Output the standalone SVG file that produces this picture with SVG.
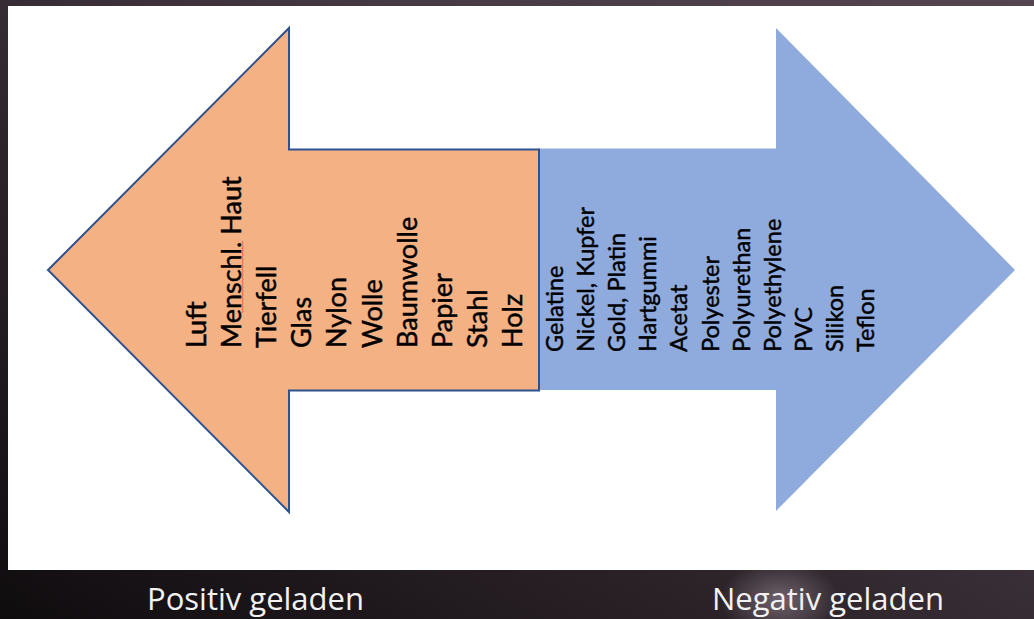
<svg xmlns="http://www.w3.org/2000/svg" width="1034" height="619" viewBox="0 0 1034 619">
  <defs>
    <linearGradient id="bg" x1="0" y1="1" x2="1" y2="0">
      <stop offset="0" stop-color="#0f0c0e"/>
      <stop offset="0.35" stop-color="#2b2228"/>
      <stop offset="0.7" stop-color="#463a43"/>
      <stop offset="1" stop-color="#54464f"/>
    </linearGradient>
    <radialGradient id="glow" cx="0.5" cy="0.5" r="0.5">
      <stop offset="0" stop-color="#8a7c88" stop-opacity="0.7"/>
      <stop offset="1" stop-color="#8a7c88" stop-opacity="0"/>
    </radialGradient>
    <style>
      .lab { font-family: Lato, "Liberation Sans", sans-serif; fill: #000; stroke: #000; stroke-width: 0.45px; }
      .pos { font-size: 27px; }
      .neg { font-size: 23.5px; }
      .cap { font-family: "Open Sans", "Liberation Sans", sans-serif; font-size: 31px; fill: #f2f2f2; }
    </style>
  </defs>

  <!-- background -->
  <rect x="0" y="0" width="1034" height="619" fill="url(#bg)"/>
  <ellipse cx="780" cy="600" rx="60" ry="40" fill="url(#glow)"/>
  <rect x="8" y="6" width="1026" height="564" fill="#ffffff"/>

  <!-- arrows -->
  <g id="arrow-negative">
    <polygon points="538,148.5 776,148.5 776,28 1015,270 776,511 776,390 538,390" fill="#8faadc"/>
  </g>
  <g id="arrow-positive">
    <polygon points="48,270 289,28 289,149.5 539,149.5 539,390.5 289,390.5 289,512" fill="#f4b183" stroke="#2f528f" stroke-width="2" stroke-linejoin="miter"/>
  </g>

  <g id="connectors"></g>

  <!-- positive list -->
  <g id="list-positive" class="lab pos">
    <text transform="translate(205.5,348) rotate(-90)">Luft</text>
    <text transform="translate(240.7,348) rotate(-90)">Menschl. Haut</text>
    <text transform="translate(275.9,348) rotate(-90)">Tierfell</text>
    <text transform="translate(311.1,348) rotate(-90)">Glas</text>
    <text transform="translate(346.3,348) rotate(-90)">Nylon</text>
    <text transform="translate(381.5,348) rotate(-90)">Wolle</text>
    <text transform="translate(416.7,348) rotate(-90)">Baumwolle</text>
    <text transform="translate(451.9,348) rotate(-90)">Papier</text>
    <text transform="translate(487.1,348) rotate(-90)">Stahl</text>
    <text transform="translate(522.3,348) rotate(-90)">Holz</text>
  </g>
  <path d="M242,313 l1.2,-2 l-1.2,-2 l1.2,-2 l-1.2,-2 l1.2,-2 l-1.2,-2 l1.2,-2 l-1.2,-2 l1.2,-2 l-1.2,-2 l1.2,-2 l-1.2,-2 l1.2,-2 l-1.2,-2 l1.2,-2 l-1.2,-2 l1.2,-2 l-1.2,-2 l1.2,-2 l-1.2,-2 l1.2,-2 l-1.2,-2 l1.2,-2 l-1.2,-2 l1.2,-2 l-1.2,-2 l1.2,-2 l-1.2,-2 l1.2,-2 l-1.2,-2 l1.2,-2 l-1.2,-2 l1.2,-2 l-1.2,-2 l1.2,-2 l-1.2,-2" fill="none" stroke="#e0403a" stroke-width="0.9" opacity="0.8"/>

  <!-- negative list -->
  <g id="list-negative" class="lab neg">
    <text transform="translate(563,352) rotate(-90)">Gelatine</text>
    <text transform="translate(594.1,352) rotate(-90)">Nickel, Kupfer</text>
    <text transform="translate(625.2,352) rotate(-90)">Gold, Platin</text>
    <text transform="translate(656.3,352) rotate(-90)">Hartgummi</text>
    <text transform="translate(687.4,352) rotate(-90)">Acetat</text>
    <text transform="translate(718.5,352) rotate(-90)">Polyester</text>
    <text transform="translate(749.6,352) rotate(-90)">Polyurethan</text>
    <text transform="translate(780.7,352) rotate(-90)">Polyethylene</text>
    <text transform="translate(811.8,352) rotate(-90)">PVC</text>
    <text transform="translate(842.9,352) rotate(-90)">Silikon</text>
    <text transform="translate(874,352) rotate(-90)">Teflon</text>
  </g>

  <!-- captions -->
  <g id="caption-positive"><text class="cap" x="147" y="610">Positiv geladen</text></g>
  <g id="caption-negative"><text class="cap" x="712" y="610">Negativ geladen</text></g>
</svg>
